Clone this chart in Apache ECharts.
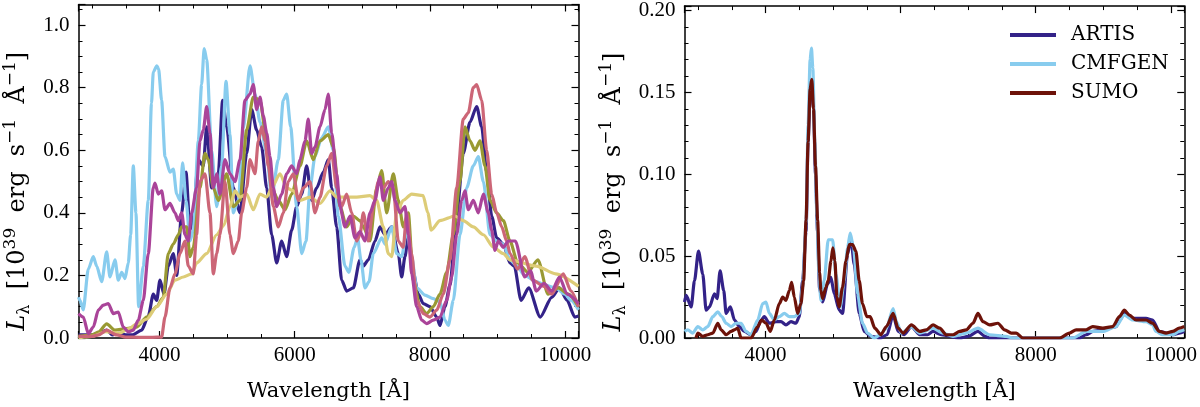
<!DOCTYPE html>
<html>
<head>
<meta charset="utf-8">
<script src="https://cdn.jsdelivr.net/npm/echarts@6/dist/echarts.min.js"></script>
<style>
html, body { margin: 0; padding: 0; background: #fff; }
#chart { width: 1200px; height: 407px; }
</style>
</head>
<body>
<div id="chart"></div>
<script>
// ---- left panel: spectra, wavelength [A] / L_lambda [1e39 erg/s/A] ----
var leftArtisWl = [2800,3000,3100,3217,3300,3400,3500,3600,3735,3833,
    3907,3957,4006,4065,4129,4203,4253,4327,4391,4450,
    4499,4573,4647,4697,4771,4830,4869,4933,4993,5091,
    5190,5289,5363,5437,5511,5585,5659,5733,5807,5881,
    5955,6029,6103,6177,6251,6325,6424,6497,6547,6621,
    6695,6769,6867,6966,7015,7090,7188,7262,7336,7435,
    7533,7583,7632,7681,7755,7829,7903,8002,8101,8150,
    8224,8298,8397,8495,8594,8693,8767,8841,8915,8989,
    9088,9186,9250,9350,9463,9634,9804,9918,10032,10145,
    10200];
var leftArtisL = [0.01,0.01,0.015,0.025,0.01,0.015,0.01,0.01,0.025,0.07,
    0.14,0.12,0.185,0.14,0.23,0.27,0.20,0.40,0.53,0.345,
    0.39,0.57,0.55,0.675,0.48,0.50,0.525,0.76,0.675,0.48,
    0.40,0.59,0.73,0.665,0.61,0.48,0.33,0.24,0.31,0.26,
    0.345,0.42,0.46,0.55,0.44,0.48,0.53,0.57,0.48,0.355,
    0.185,0.15,0.16,0.25,0.23,0.25,0.31,0.355,0.33,0.355,
    0.27,0.195,0.26,0.33,0.21,0.14,0.11,0.10,0.067,0.04,
    0.10,0.17,0.39,0.59,0.69,0.74,0.675,0.53,0.39,0.32,
    0.30,0.24,0.23,0.12,0.16,0.067,0.13,0.16,0.12,0.067,
    0.07];

var leftCmfgenWl = [2800,2822,2870,2945,3019,3069,3143,3217,3266,3340,
    3389,3439,3488,3537,3572,3611,3650,3690,3759,3833,
    3880,3907,3960,3985,4030,4080,4154,4203,4253,4302,
    4341,4391,4450,4499,4573,4622,4660,4697,4771,4845,
    4919,4983,5042,5091,5165,5239,5338,5412,5486,5585,
    5659,5757,5831,5881,5940,6029,6103,6167,6226,6300,
    6399,6497,6571,6645,6744,6800,6880,6930,6980,7040,
    7100,7163,7287,7336,7435,7509,7583,7657,7730,7805,
    7928,8051,8150,8224,8273,8347,8446,8545,8643,8717,
    8792,8890,8989,9088,9186,9292,9400,9575,9700,9861,
    10000,10089,10200];
var leftCmfgenL = [0.13,0.12,0.09,0.22,0.26,0.23,0.18,0.275,0.195,0.25,
    0.185,0.21,0.19,0.24,0.33,0.55,0.40,0.10,0.23,0.44,
    0.75,0.85,0.87,0.86,0.76,0.58,0.53,0.54,0.46,0.44,
    0.56,0.44,0.31,0.345,0.63,0.81,0.925,0.89,0.60,0.42,
    0.55,0.82,0.65,0.40,0.44,0.67,0.87,0.78,0.69,0.59,
    0.45,0.57,0.76,0.78,0.675,0.42,0.27,0.31,0.48,0.58,
    0.64,0.675,0.60,0.39,0.23,0.21,0.29,0.32,0.25,0.16,
    0.18,0.27,0.32,0.30,0.355,0.27,0.26,0.345,0.26,0.16,
    0.137,0.126,0.115,0.057,0.04,0.12,0.33,0.48,0.55,0.58,
    0.50,0.33,0.31,0.30,0.25,0.23,0.20,0.18,0.17,0.16,
    0.14,0.12,0.09];

var leftOliveWl = [2800,3000,3100,3217,3340,3512,3660,3809,3957,4055,
    4129,4203,4277,4327,4401,4450,4499,4598,4672,4721,
    4795,4869,4993,5091,5190,5289,5387,5486,5585,5659,
    5757,5856,5955,6078,6177,6275,6374,6497,6571,6670,
    6769,6867,6966,7015,7114,7213,7287,7361,7459,7533,
    7607,7681,7755,7854,7953,8051,8150,8249,8347,8446,
    8520,8594,8668,8742,8816,8890,8989,9088,9186,9300,
    9450,9600,9750,9900,10050,10200];
var leftOliveL = [0.005,0.01,0.02,0.045,0.025,0.03,0.035,0.067,0.10,0.13,
    0.27,0.30,0.33,0.355,0.355,0.26,0.29,0.48,0.59,0.57,
    0.48,0.44,0.525,0.42,0.44,0.665,0.77,0.76,0.63,0.48,
    0.44,0.41,0.46,0.55,0.63,0.57,0.63,0.65,0.61,0.42,
    0.355,0.39,0.375,0.355,0.31,0.48,0.535,0.40,0.525,0.44,
    0.355,0.40,0.185,0.10,0.078,0.10,0.14,0.21,0.33,0.50,
    0.675,0.63,0.60,0.63,0.55,0.44,0.40,0.375,0.31,0.24,
    0.21,0.25,0.14,0.16,0.14,0.10];

var leftSandWl = [2800,3000,3200,3400,3550,3660,3809,3957,4105,4228,
    4352,4475,4548,4697,4845,4950,5042,5116,5190,5289,
    5387,5486,5585,5659,5782,5881,5980,6078,6226,6374,
    6522,6621,6769,6917,7114,7213,7311,7385,7435,7509,
    7607,7730,7900,7970,8020,8150,8372,8495,8643,8792,
    8940,9088,9186,9575,9861,10200];
var leftSandL = [0.0,0.005,0.02,0.015,0.03,0.045,0.06,0.10,0.14,0.185,
    0.195,0.205,0.24,0.27,0.33,0.36,0.42,0.47,0.45,0.46,
    0.41,0.46,0.45,0.48,0.525,0.48,0.47,0.44,0.45,0.43,
    0.47,0.45,0.45,0.45,0.455,0.44,0.355,0.27,0.26,0.40,
    0.44,0.46,0.455,0.40,0.345,0.375,0.39,0.375,0.355,0.33,
    0.29,0.27,0.25,0.23,0.205,0.165];

var leftRoseWl = [2800,3000,3100,3217,3365,3500,3700,3900,4030,4080,
    4154,4228,4302,4376,4425,4499,4548,4598,4672,4746,
    4795,4845,4894,4968,5042,5091,5165,5215,5289,5338,
    5412,5461,5511,5560,5609,5684,5757,5831,5905,5980,
    6053,6127,6226,6300,6374,6473,6547,6621,6695,6769,
    6843,6917,6966,7015,7090,7163,7237,7311,7385,7459,
    7533,7607,7657,7730,7805,7903,8002,8101,8199,8298,
    8397,8495,8569,8643,8693,8767,8841,8915,8989,9064,
    9137,9186,9300,9405,9520,9690,9804,9974,10089,10200];
var leftRoseL = [0.005,0.005,0.01,0.025,0.01,0.003,0.002,0.002,0.003,0.067,
    0.16,0.205,0.27,0.31,0.23,0.205,0.33,0.50,0.525,0.40,
    0.205,0.27,0.33,0.50,0.33,0.27,0.31,0.40,0.48,0.57,
    0.525,0.63,0.675,0.63,0.55,0.42,0.355,0.40,0.50,0.525,
    0.44,0.48,0.50,0.40,0.45,0.55,0.59,0.48,0.42,0.46,
    0.40,0.31,0.33,0.40,0.31,0.42,0.50,0.48,0.50,0.48,
    0.31,0.29,0.40,0.27,0.12,0.078,0.067,0.089,0.14,0.25,
    0.48,0.70,0.72,0.80,0.81,0.76,0.60,0.46,0.40,0.355,
    0.31,0.27,0.22,0.26,0.185,0.165,0.14,0.205,0.15,0.10];

var leftPurpleWl = [2800,2871,2945,3019,3093,3167,3241,3315,3389,3463,
    3537,3611,3685,3759,3833,3907,3932,3981,4031,4080,
    4154,4228,4277,4327,4376,4425,4475,4548,4598,4647,
    4697,4746,4795,4845,4894,4968,5042,5116,5190,5264,
    5338,5387,5437,5486,5535,5585,5634,5684,5733,5807,
    5881,5955,6029,6078,6152,6201,6251,6300,6374,6448,
    6497,6547,6621,6670,6744,6818,6892,6966,7040,7114,
    7188,7262,7311,7385,7435,7484,7558,7632,7681,7731,
    7805,7879,7953,8051,8150,8249,8323,8397,8471,8520,
    8569,8643,8717,8792,8865,8915,8964,9013,9088,9161,
    9265,9405,9490,9575,9690,9804,9918,10032,10200];
var leftPurpleL = [0.078,0.067,0.014,0.035,0.089,0.105,0.11,0.078,0.083,0.035,
    0.02,0.025,0.057,0.12,0.27,0.48,0.495,0.46,0.47,0.41,
    0.43,0.40,0.375,0.40,0.33,0.31,0.40,0.48,0.63,0.665,
    0.74,0.655,0.48,0.525,0.46,0.57,0.525,0.50,0.57,0.76,
    0.78,0.81,0.73,0.77,0.71,0.655,0.58,0.48,0.42,0.46,
    0.525,0.55,0.525,0.57,0.63,0.70,0.59,0.61,0.675,0.73,
    0.78,0.655,0.525,0.42,0.355,0.39,0.32,0.34,0.31,0.40,
    0.44,0.515,0.44,0.48,0.50,0.44,0.40,0.42,0.33,0.205,
    0.10,0.057,0.046,0.057,0.067,0.12,0.195,0.33,0.44,0.47,
    0.41,0.44,0.40,0.46,0.40,0.345,0.28,0.31,0.29,0.31,
    0.31,0.195,0.215,0.15,0.175,0.15,0.195,0.14,0.11];

// ---- right panel ----
var rightArtisWl = [2800,2825,2899,2948,3007,3071,3120,3170,3243,3283,
    3327,3381,3416,3480,3539,3613,3687,3785,3859,3933,
    3982,4056,4155,4229,4303,4377,4450,4500,4549,4600,
    4630,4660,4685,4710,4740,4770,4800,4845,4919,4968,
    5017,5091,5140,5214,5264,5313,5387,5461,5559,5700,
    5800,5889,5963,6050,6160,6283,6400,6480,6600,6874,
    7000,7145,7250,7318,8648,8747,8850,8993,9190,9250,
    9313,9436,9634,9732,9831,10027,10126,10200];
var rightArtisL = [0.022,0.026,0.019,0.035,0.053,0.039,0.017,0.019,0.027,0.024,
    0.041,0.029,0.015,0.019,0.011,0.007,0.004,0.002,0.004,0.011,
    0.013,0.009,0.010,0.010,0.008,0.010,0.009,0.013,0.035,0.065,
    0.12,0.15,0.157,0.14,0.10,0.065,0.03,0.022,0.033,0.037,
    0.027,0.017,0.015,0.051,0.061,0.045,0.015,0.004,0.001,0.0,
    0.002,0.014,0.004,0.002,0.007,0.002,0.002,0.004,0.002,0.0,
    0.001,0.004,0.001,0.0,0.0,0.002,0.004,0.005,0.007,0.011,
    0.016,0.012,0.012,0.011,0.004,0.002,0.003,0.004];

var rightCmfgenWl = [2800,2849,2923,2997,3071,3145,3219,3293,3352,3416,
    3490,3564,3638,3711,3785,3884,3958,4007,4056,4130,
    4204,4278,4352,4426,4500,4549,4600,4630,4660,4680,
    4700,4730,4760,4790,4820,4869,4928,4993,5042,5106,
    5165,5214,5254,5303,5362,5436,5510,5609,5700,5790,
    5889,5938,6012,6160,6283,6480,6628,6776,6973,7145,
    7318,7564,7663,8550,8747,8993,9190,9313,9436,9634,
    9732,9781,9880,10027,10126,10200];
var rightCmfgenL = [0.004,0.005,0.003,0.007,0.005,0.007,0.013,0.016,0.013,0.009,
    0.007,0.009,0.009,0.004,0.002,0.011,0.021,0.022,0.015,0.011,
    0.013,0.015,0.013,0.013,0.015,0.031,0.07,0.13,0.17,0.177,
    0.165,0.12,0.075,0.04,0.023,0.035,0.060,0.060,0.039,0.019,
    0.035,0.055,0.064,0.055,0.027,0.009,0.003,0.0,0.002,0.006,
    0.018,0.010,0.003,0.007,0.003,0.006,0.003,0.001,0.003,0.006,
    0.002,0.001,0.0,0.0,0.004,0.004,0.007,0.014,0.011,0.010,
    0.008,0.004,0.002,0.002,0.004,0.005];

var rightSumoWl = [2970,2997,3071,3145,3219,3293,3342,3416,3490,3539,
    3588,3638,3785,3884,3943,4007,4071,4130,4204,4254,
    4303,4352,4387,4426,4475,4524,4564,4600,4630,4660,
    4685,4710,4740,4771,4800,4820,4845,4894,4928,4968,
    4997,5027,5057,5091,5140,5190,5239,5288,5338,5387,
    5436,5500,5550,5618,5707,5790,5889,5963,6037,6160,
    6283,6382,6480,6579,6677,6776,6874,6973,7071,7145,
    7219,7318,7441,7540,7638,7712,7811,8353,8500,8599,
    8747,8845,8993,9141,9239,9313,9387,9486,9634,9732,
    9831,9929,10027,10126,10200];
var rightSumoL = [0.0,0.003,0.001,0.002,0.003,0.009,0.005,0.002,0.004,0.005,
    0.006,0.0,0.0,0.007,0.011,0.009,0.004,0.011,0.021,0.025,
    0.023,0.029,0.034,0.025,0.015,0.021,0.035,0.072,0.12,0.152,
    0.158,0.14,0.105,0.072,0.04,0.029,0.024,0.031,0.035,0.047,
    0.055,0.047,0.025,0.019,0.031,0.047,0.057,0.057,0.053,0.035,
    0.021,0.013,0.013,0.006,0.002,0.007,0.015,0.006,0.003,0.008,
    0.004,0.005,0.008,0.006,0.002,0.002,0.004,0.005,0.009,0.015,
    0.010,0.008,0.009,0.005,0.003,0.003,0.0,0.0,0.003,0.005,
    0.005,0.007,0.006,0.007,0.013,0.017,0.014,0.011,0.011,0.009,
    0.004,0.003,0.004,0.006,0.007];

var legendNames = ['ARTIS', 'CMFGEN', 'SUMO'];

var TICK_FONT = 'Liberation Serif';
var TEXT_FONT = 'DejaVu Serif';

function pairs(wl, vals) {
    return wl.map(function (w, i) { return [w, vals[i]]; });
}

// 刻度：向内，四边都画
function xAxisFor(grid, pos) {
    var bottom = pos === 'bottom';
    return {
        type: 'value', gridIndex: grid, position: pos,
        min: 2800, max: 10200, splitNumber: 4, minInterval: 2000, maxInterval: 2000,
        axisLine: { show: true, onZero: false, lineStyle: { color: '#000', width: 1.5 } },
        axisTick: { show: true, inside: true, length: 7, lineStyle: { color: '#000', width: 1.2 } },
        minorTick: { show: true, splitNumber: 4, length: 4, lineStyle: { color: '#000', width: 1 } },
        splitLine: { show: false },
        axisLabel: {
            show: bottom, margin: 7, color: '#000', fontFamily: TICK_FONT, fontSize: 21,
            formatter: function (v) { return v % 2000 === 0 ? String(v) : ''; }
        },
        name: bottom ? 'Wavelength [Å]' : '',
        nameLocation: 'middle', nameGap: 43,
        nameTextStyle: { color: '#000', fontFamily: TEXT_FONT, fontSize: 21 }
    };
}

function yAxisFor(grid, pos, max, step, digits, gap) {
    var left = pos === 'left';
    return {
        type: 'value', gridIndex: grid, position: pos,
        min: 0, max: max, interval: step,
        axisLine: { show: true, onZero: false, lineStyle: { color: '#000', width: 1.5 } },
        axisTick: { show: true, inside: true, length: 7, lineStyle: { color: '#000', width: 1.2 } },
        minorTick: { show: true, splitNumber: digits === 1 ? 4 : 5, length: 4, lineStyle: { color: '#000', width: 1 } },
        splitLine: { show: false },
        axisLabel: {
            show: left, margin: 9, color: '#000', fontFamily: TICK_FONT, fontSize: 21,
            formatter: function (v) {
                var k = Math.round(v / step);
                return Math.abs(v - k * step) < 1e-9 ? v.toFixed(digits) : '';
            }
        },
        name: left ? '{i|L}{sub|λ}{n|  [10}{sup|39}{n|  erg  s}{sup|−1}{n|  Å}{sup|−1}{n|]}' : '',
        nameLocation: 'middle', nameRotate: 90, nameGap: gap,
        nameTextStyle: {
            color: '#000',
            padding: [0, 40, 0, 0],
            rich: {
                n: { fontFamily: TEXT_FONT, fontSize: 24, lineHeight: 30, color: '#000' },
                i: { fontFamily: TEXT_FONT, fontStyle: 'italic', fontSize: 24, lineHeight: 30, color: '#000' },
                sub: { fontFamily: TEXT_FONT, fontSize: 16, lineHeight: 12, verticalAlign: 'bottom', color: '#000' },
                sup: { fontFamily: TEXT_FONT, fontSize: 17, lineHeight: 14, verticalAlign: 'top', color: '#000' }
            }
        }
    };
}

function line(name, color, xi, wl, vals) {
    return {
        name: name, type: 'line', xAxisIndex: xi, yAxisIndex: xi,
        data: pairs(wl, vals),
        showSymbol: false, smooth: 0.25, smoothMonotone: 'x',
        lineStyle: { color: color, width: 3.2 },
        itemStyle: { color: color },
        emphasis: { disabled: true }
    };
}

var myChart = echarts.init(document.getElementById('chart'));
var option = {
    animation: false,
    backgroundColor: '#fff',
    grid: [
        { left: 78.5, top: 4.5, width: 500, height: 333.5 },
        { left: 684.5, top: 4.5, width: 500.5, height: 333.5 }
    ],
    xAxis: [xAxisFor(0, 'bottom'), xAxisFor(0, 'top'), xAxisFor(1, 'bottom'), xAxisFor(1, 'top')],
    yAxis: [
        yAxisFor(0, 'left', 1.066, 0.2, 1, 46),
        yAxisFor(0, 'right', 1.066, 0.2, 1, 0),
        yAxisFor(1, 'left', 0.2027, 0.05, 2, 56),
        yAxisFor(1, 'right', 0.2027, 0.05, 2, 0)
    ],
    legend: {
        data: legendNames, orient: 'vertical', left: 1005, top: 20,
        icon: 'rect', itemWidth: 46, itemHeight: 4, itemGap: 9, selectedMode: false,
        textStyle: { color: '#000', fontFamily: TEXT_FONT, fontSize: 20, padding: [0, 0, 0, 10] }
    },
    series: [
        line('ARTIS', '#332288', 0, leftArtisWl, leftArtisL),
        line('CMFGEN', '#88CCEE', 0, leftCmfgenWl, leftCmfgenL),
        line('olive', '#999933', 0, leftOliveWl, leftOliveL),
        line('sand', '#DDCC77', 0, leftSandWl, leftSandL),
        line('rose', '#CC6677', 0, leftRoseWl, leftRoseL),
        line('purple', '#AA4499', 0, leftPurpleWl, leftPurpleL),
        line('ARTIS', '#332288', 2, rightArtisWl, rightArtisL),
        line('CMFGEN', '#88CCEE', 2, rightCmfgenWl, rightCmfgenL),
        line('SUMO', '#6d1209', 2, rightSumoWl, rightSumoL)
    ]
};
myChart.setOption(option);
</script>
</body>
</html>
